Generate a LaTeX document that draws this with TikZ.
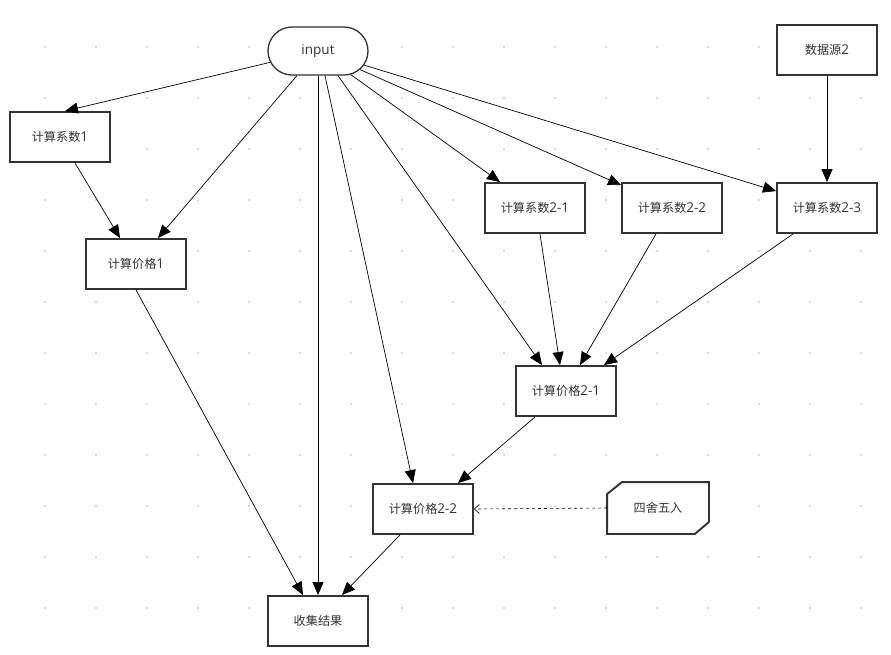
\documentclass[tikz,border=0pt]{standalone}
\usepackage{fontspec}
\setmainfont{Open Sans}
\newfontfamily\cjk[Scale=0.9]{Noto Sans CJK SC}
\usetikzlibrary{arrows.meta,shapes.misc}

\definecolor{boxgray}{HTML}{333333}
\definecolor{dotgray}{HTML}{BBBBBB}

\begin{document}
\begin{tikzpicture}[x=1pt, y=-1pt,
    box/.style={draw=boxgray, line width=1.9pt, fill=white, minimum width=100pt,
        minimum height=50pt, inner sep=0pt, text=boxgray, font=\fontsize{13.5}{15}\selectfont},
    stadium/.style={box, rounded rectangle, line width=1.3pt, minimum height=48pt},
    plain/.style={box, draw=none, fill=none},
    link/.style={draw=black, line width=0.7pt, -{Triangle[length=13pt, width=11pt]}},
    weak/.style={draw=black, line width=0.6pt, dash pattern=on 3pt off 3pt,
        -{Straight Barb[length=5pt, width=9pt]}}]
    \useasboundingbox (0,0) rectangle (891,654);
    \fill[white] (0,0) rectangle (891,654);

    % Grid
    \foreach \y in {0,...,11} {
        \foreach \x in {0,...,16} {
            \pgfmathsetmacro{\px}{45+51*\x}
            \pgfmathsetmacro{\py}{47+51*\y}
            \fill[dotgray] (\px,\py) circle (0.8pt);
        }
    }

    % Nodes
    \node[stadium] (input) at (318,51) {input};
    \node[box] (coef1) at (60,137) {{\cjk 计算系数}1};
    \node[box] (price1) at (136,264) {{\cjk 计算价格}1};
    \node[box] (coef21) at (535,208) {{\cjk 计算系数}2-1};
    \node[box] (coef22) at (672,208) {{\cjk 计算系数}2-2};
    \node[box] (coef23) at (827,208) {{\cjk 计算系数}2-3};
    \node[box] (src2) at (827,50) {{\cjk 数据源}2};
    \node[box] (price21) at (566,391) {{\cjk 计算价格}2-1};
    \node[box] (price22) at (423,509) {{\cjk 计算价格}2-2};
    \node[box] (collect) at (318,621) {\cjk 收集结果};
    \node[plain] (round) at (658,508) {};
    \draw[boxgray, line width=1.9pt, fill=white, line join=miter]
        ([xshift=15pt]round.north west) -- (round.north east)
        -- ([yshift=12pt]round.south east) -- ([xshift=-14pt]round.south east)
        -- (round.south west) -- ([yshift=-12pt]round.north west) -- cycle;
    \node[plain] (roundtext) at (round) {\cjk 四舍五入};

    % Links from input
    \draw[link] (input) -- ([xshift=5pt]coef1.north);
    \draw[link] (input) -- ([xshift=22pt]price1.north);
    \draw[link] (input.south) -- (collect.north);
    \draw[link] ([xshift=7pt]input.south) -- ([xshift=-10pt]price22.north);
    \draw[link] ([xshift=20pt]input.south) -- ([xshift=-24pt]price21.north);
    \draw[link] (input) -- ([xshift=-35pt]coef21.north);
    \draw[link] (input) -- ([yshift=-3pt]coef22.north west);
    \draw[link] (input) -- ([yshift=-9pt]coef23.north west);

    % Other links
    \draw[link] ([xshift=15pt]coef1.south) -- ([xshift=-16pt]price1.north);
    \draw[link] (price1.south) -- ([xshift=-15pt]collect.north);
    \draw[link] ([xshift=5pt]coef21.south) -- ([xshift=-6pt]price21.north);
    \draw[link] ([xshift=-16pt]coef22.south) -- ([xshift=14pt]price21.north);
    \draw[link] ([xshift=-34pt]coef23.south) -- ([xshift=38pt]price21.north);
    \draw[link] (src2.south) -- (coef23.north);
    \draw[link] ([xshift=-31pt]price21.south) -- ([xshift=35pt]price22.north);
    \draw[link] ([xshift=-23pt]price22.south) -- ([xshift=24pt]collect.north);
    \draw[weak] (round.west) -- (price22.east);
\end{tikzpicture}
\end{document}
